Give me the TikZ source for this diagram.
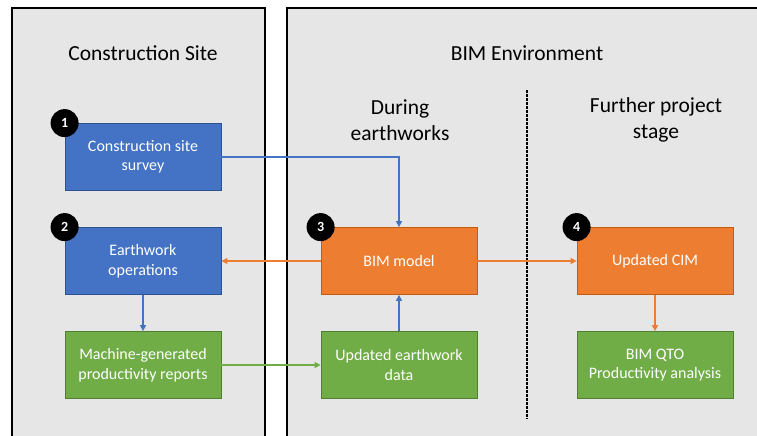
\documentclass[tikz,border=0pt]{standalone}
\usepackage{fontspec}
\setmainfont{Carlito}
\usetikzlibrary{arrows.meta,calc}
\definecolor{cblue}{HTML}{4472C4}
\definecolor{cblueb}{HTML}{2F528F}
\definecolor{corange}{HTML}{ED7D31}
\definecolor{corangeb}{HTML}{C55A11}
\definecolor{cgreen}{HTML}{70AD47}
\definecolor{cgreenb}{HTML}{507E32}
\definecolor{cpanel}{HTML}{E6E6E6}
\tikzset{
  box/.style={draw, line width=0.8pt, minimum width=156pt, minimum height=67pt, inner sep=0pt,
    text=white, align=center, font=\fontsize{16}{19.5}\selectfont},
  bluebox/.style={box, fill=cblue, draw=cblueb},
  orangebox/.style={box, fill=corange, draw=corangeb},
  greenbox/.style={box, fill=cgreen, draw=cgreenb},
  badge/.style={circle, fill=black, minimum size=28pt, inner sep=0pt, text=white,
    font=\fontsize{14}{14}\selectfont\bfseries},
  title/.style={align=center, font=\fontsize{21.5}{26}\selectfont},
  conn/.style={line width=1.4pt, -{Triangle[length=6pt,width=6pt]}},
  panel/.style={draw=black, line width=2pt, fill=cpanel}
}
\begin{document}
\begin{tikzpicture}[x=1pt,y=-1pt]
\useasboundingbox (0,0) rectangle (757,436);
\begin{scope}
\clip (0,0) rectangle (757,436);
\fill[white] (0,0) rectangle (757,436);
\draw[panel] (12,8) rectangle (265,450);
\draw[panel] (287,8) rectangle (770,450);
\end{scope}
\node[title] (tcs) at (143,53) {Construction Site};
\node[title] (tbim) at (527,53) {BIM Environment};
\node[title] (tdur) at (400,120) {During\\earthworks};
\node[title] (tfur) at (656,120) {Further project\\stage};
\coordinate (dtop) at (527,90);
\coordinate (dbot) at (527,419);
\draw[line width=1.3pt, dash pattern=on 2.5pt off 1.5pt] (dtop) -- (dbot);

\node[bluebox] (box1) at (143,157) {Construction site\\survey};
\node[bluebox] (box2) at (143,261) {Earthwork\\operations};
\node[greenbox] (box5) at (143,365) {Machine-generated\\productivity reports};
\node[orangebox] (bim) at (399,261) {BIM model};
\node[greenbox] (upd) at (399,365) {Updated earthwork\\data};
\node[orangebox] (cim) at (655,261) {Updated CIM};
\node[greenbox] (qto) at (655,365) {BIM QTO\\Productivity analysis};

\node[badge] (n1) at (box1.north west) {1};
\node[badge] (n2) at (box2.north west) {2};
\node[badge] (n3) at (bim.north west) {3};
\node[badge] (n4) at (cim.north west) {4};

\draw[conn, cblue] (box1.east) -| (bim.north);
\draw[conn, corange] (bim.west) -- (box2.east);
\draw[conn, cblue] (box2.south) -- (box5.north);
\draw[conn, cgreen] (box5.east) -- (upd.west);
\draw[conn, cblue] (upd.north) -- (bim.south);
\draw[conn, corange] (bim.east) -- (cim.west);
\draw[conn, corange] (cim.south) -- (qto.north);
\end{tikzpicture}
\end{document}
